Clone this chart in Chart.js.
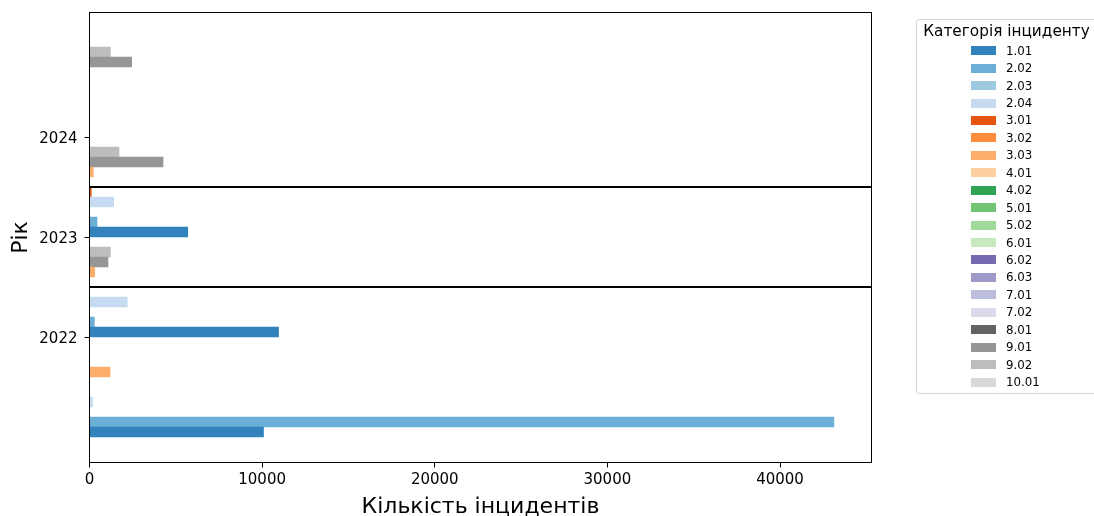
<!DOCTYPE html>
<html lang="uk">
<head>
<meta charset="utf-8">
<title>Кількість інцидентів за категоріями</title>
<script src="https://cdn.jsdelivr.net/npm/chart.js@4.4.1/dist/chart.umd.min.js"></script>
<style>
  html, body { margin: 0; padding: 0; background: #fff; overflow: hidden; }
  #wrap { position: relative; width: 1094px; height: 516px; font-family: "DejaVu Sans", sans-serif; color: #000; }
  #chart { position: absolute; left: 0; top: 0; }
  #legend { position: absolute; left: 916px; top: 18.5px; width: 181px; height: 375px; box-sizing: border-box;
            border: 1px solid #d2d2d2; border-radius: 3px; background: rgba(255,255,255,0.8); }
  .lg-title { position: absolute; left: 0; right: 0; text-align: center; font-size: 15.3px; line-height: 18px; white-space: nowrap; }
  .lg-sw { position: absolute; width: 25px; height: 9px; }
  .lg-lb { position: absolute; font-size: 11.8px; line-height: 14px; white-space: nowrap; }
</style>
</head>
<body>
<div id="wrap">
  <canvas id="chart" width="1094" height="516"></canvas>
  <div id="legend"></div>
</div>
<script>
// Years on the vertical axis
const years = ['2022', '2023', '2024'];

// Incident categories (legend order)
const categories = ['1.01', '2.02', '2.03', '2.04', '3.01', '3.02', '3.03', '4.01', '4.02', '5.01',
                    '5.02', '6.01', '6.02', '6.03', '7.01', '7.02', '8.01', '9.01', '9.02', '10.01'];

// Number of incidents per category, one array per year (same order as categories)
const counts2022 = [10080, 43120, 0, 170, 0, 0, 1190, 0, 0, 0, 0, 0, 0, 0, 0, 0, 0, 1070, 1210, 0];
const counts2023 = [10950, 280, 0, 2190, 0, 0, 300, 0, 0, 0, 0, 0, 0, 0, 0, 0, 0, 4260, 1710, 0];
const counts2024 = [5690, 435, 0, 1400, 100, 0, 220, 0, 0, 0, 0, 0, 0, 0, 0, 0, 0, 2445, 1210, 0];

// Tick values of the count axis
const xTicks = [0, 10000, 20000, 30000, 40000];

// tab20c colours, one per category
const palette = ['#3182bd', '#6baed6', '#9ecae1', '#c6dbef', '#e6550d', '#fd8d3c', '#fdae6b', '#fdd0a2',
                 '#31a354', '#74c476', '#a1d99b', '#c7e9c0', '#756bb1', '#9e9ac8', '#bcbddc', '#dadaeb',
                 '#636363', '#969696', '#bdbdbd', '#d9d9d9'];

const countsByYear = [counts2022, counts2023, counts2024];
const SLOT = 0.1; // vertical step between neighbouring category bars
const half = (categories.length - 1) / 2;
const slotPos = (yearIdx, catIdx) => Math.round((yearIdx + (catIdx - half) * SLOT) * 1000) / 1000;

const datasets = categories.map((cat, i) => ({
  label: cat,
  data: years.map((yr, k) => ({ x: countsByYear[k][i], y: slotPos(k, i) })),
  backgroundColor: palette[i],
  borderWidth: 0,
  grouped: false,
  barPercentage: 1,
  categoryPercentage: 1
}));

// Axes frame plus the black rules separating the year groups
const framePlugin = {
  id: 'frame',
  afterDatasetsDraw(chart) {
    const { ctx, chartArea: a, scales: { y } } = chart;
    ctx.save();
    ctx.strokeStyle = '#000';
    ctx.lineWidth = 2;
    for (let k = 0; k < years.length - 1; k++) {
      const py = y.getPixelForValue(k + 0.5);
      ctx.beginPath();
      ctx.moveTo(a.left, py);
      ctx.lineTo(a.right, py);
      ctx.stroke();
    }
    ctx.lineWidth = 1;
    ctx.strokeRect(a.left, a.top, a.right - a.left, a.bottom - a.top);
    ctx.restore();
  }
};

const font = { family: '"DejaVu Sans", sans-serif' };

new Chart(document.getElementById('chart'), {
  type: 'bar',
  data: { datasets },
  plugins: [framePlugin],
  options: {
    indexAxis: 'y',
    responsive: false,
    animation: false,
    layout: { padding: { top: 12.5, right: 222.5, left: 0, bottom: 0 } },
    plugins: { legend: { display: false }, tooltip: { enabled: false } },
    scales: {
      x: {
        type: 'linear',
        position: 'bottom',
        min: 0,
        max: 45300,
        offset: false,
        afterBuildTicks: s => { s.ticks = xTicks.map(v => ({ value: v })); },
        afterFit: s => { s.height = 53.5; s.paddingLeft = 0; s.paddingRight = 0; },
        border: { display: false },
        grid: { offset: false, drawOnChartArea: false, drawTicks: true, tickLength: 5, tickColor: '#000', tickWidth: 1 },
        ticks: { color: '#000', padding: 3.5, font: { ...font, size: 15 }, callback: v => String(v), maxRotation: 0 },
        title: { display: true, text: 'Кількість інцидентів', color: '#000',
                 font: { ...font, size: 22, lineHeight: 0.7 }, padding: { top: 0, bottom: 1 } }
      },
      y: {
        type: 'linear',
        position: 'left',
        min: -1.255,
        max: 3.245,
        offset: false,
        afterBuildTicks: s => { s.ticks = years.map((yr, k) => ({ value: k })); },
        afterFit: s => { s.width = 89.5; s.paddingTop = 0; s.paddingBottom = 0; },
        border: { display: false },
        grid: { offset: false, drawOnChartArea: false, drawTicks: true, tickLength: 5, tickColor: '#000', tickWidth: 1 },
        ticks: { color: '#000', padding: 7, labelOffset: 2, font: { ...font, size: 15 }, callback: v => years[Math.round(v)] },
        title: { display: true, text: 'Рік', color: '#000',
                 font: { ...font, size: 22, lineHeight: 1 }, padding: { top: 10.5, bottom: 0 } }
      }
    }
  }
});

// Legend: title and one swatch + label per category
const legend = document.getElementById('legend');
const box = { left: 916, top: 18.5 };
const title = document.createElement('div');
title.className = 'lg-title';
title.textContent = 'Категорія інциденту';
title.style.top = (30.7 - 9 - box.top - 1) + 'px';
legend.appendChild(title);
categories.forEach((cat, i) => {
  const cy = 50.7 + i * 17.44;
  const sw = document.createElement('div');
  sw.className = 'lg-sw';
  sw.style.background = palette[i];
  sw.style.left = (970.7 - box.left - 1) + 'px';
  sw.style.top = (cy - 4.5 - box.top - 1) + 'px';
  legend.appendChild(sw);
  const lb = document.createElement('div');
  lb.className = 'lg-lb';
  lb.textContent = cat;
  lb.style.left = (1006 - box.left - 1) + 'px';
  lb.style.top = (cy - 7 - box.top - 1) + 'px';
  legend.appendChild(lb);
});
</script>
</body>
</html>
